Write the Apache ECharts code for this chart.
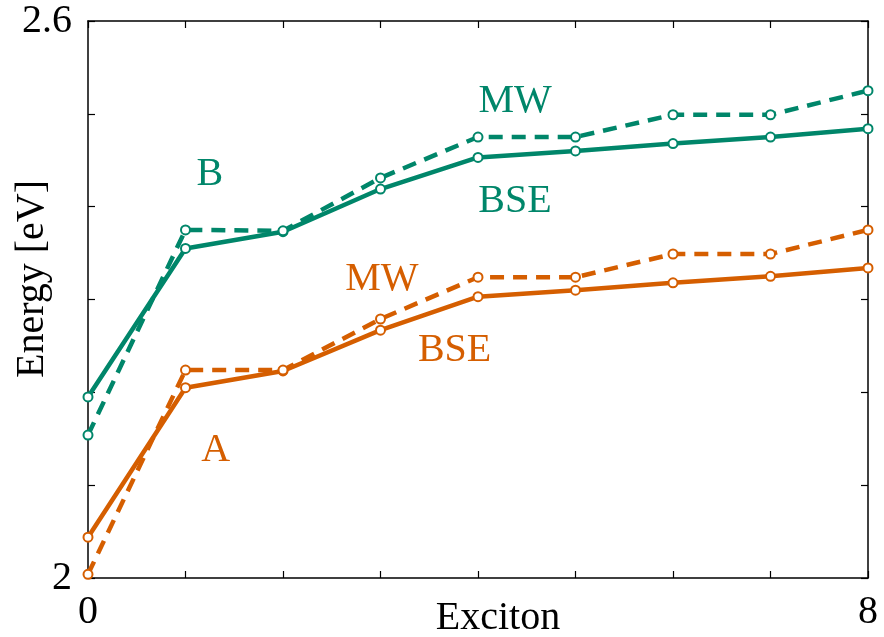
<!DOCTYPE html>
<html>
<head>
<meta charset="utf-8">
<script src="https://cdn.jsdelivr.net/npm/echarts@6/dist/echarts.min.js"></script>
<style>
  html, body { margin: 0; padding: 0; background: #fff; }
  #chart { width: 884px; height: 637px; }
</style>
</head>
<body>
<div id="chart"></div>
<script>
  // exciton index
  let excitons = [0, 1, 2, 3, 4, 5, 6, 7, 8]
  // B exciton (green)
  let bBse = [2.195, 2.355, 2.373, 2.419, 2.453, 2.460, 2.468, 2.475, 2.484]
  let bMw = [2.154, 2.375, 2.374, 2.431, 2.475, 2.475, 2.499, 2.499, 2.525]
  // A exciton (orange)
  let aBse = [2.044, 2.205, 2.223, 2.267, 2.303, 2.310, 2.318, 2.325, 2.334]
  let aMw = [2.004, 2.224, 2.224, 2.279, 2.324, 2.324, 2.349, 2.349, 2.375]
  let yTickLabels = ['2', '2.6']
  let xTickLabels = ['0', '8']

  const green = '#00866A'
  const orange = '#D55E00'
  const font = 'Liberation Serif'

  let pairs = (ys) => excitons.map((x, i) => [x, ys[i]])

  // text labels in data space
  let tag = (text, coord, color) => ({
    coord: coord,
    symbol: 'circle',
    symbolSize: 1,
    itemStyle: { color: 'rgba(0,0,0,0)' },
    label: {
      show: true, position: 'inside', formatter: text,
      color: color, fontFamily: font, fontSize: 40
    }
  })

  let line = (name, ys, color, dashed, tags) => ({
    name: name,
    type: 'line',
    data: pairs(ys),
    symbol: 'circle',
    symbolSize: 9,
    showAllSymbol: true,
    lineStyle: { color: color, width: 4.5, type: dashed ? [14, 9] : 'solid' },
    itemStyle: { color: '#fff', borderColor: color, borderWidth: 2 },
    emphasis: { disabled: true },
    markPoint: tags ? { silent: true, data: tags } : undefined,
    z: dashed ? 3 : 2
  })

  let tickStyle = { show: true, inside: true, length: 7, lineStyle: { color: '#000', width: 1.2 } }
  let axisLine = { show: true, onZero: false, lineStyle: { color: '#000', width: 1.5 } }

  let myChart = echarts.init(document.getElementById('chart'))
  let option = {
    animation: false,
    grid: { left: 88, right: 16, top: 21, bottom: 59 },
    xAxis: [
      {
        type: 'value', min: 0, max: 8, interval: 1,
        axisLine: axisLine, axisTick: tickStyle, splitLine: { show: false },
        axisLabel: {
          fontFamily: font, fontSize: 40, color: '#000', margin: 14,
          formatter: (v) => (xTickLabels.indexOf(String(v)) >= 0 ? String(v) : '')
        }
      },
      {
        type: 'value', position: 'top', min: 0, max: 8, interval: 1,
        axisLine: axisLine, axisTick: tickStyle, splitLine: { show: false },
        axisLabel: { show: false }
      }
    ],
    yAxis: [
      {
        type: 'value', min: 2, max: 2.6, interval: 0.1,
        axisLine: axisLine, axisTick: tickStyle, splitLine: { show: false },
        axisLabel: {
          fontFamily: font, fontSize: 40, color: '#000', margin: 16,
          formatter: (v) => {
            let s = String(Math.round(v * 10) / 10)
            return yTickLabels.indexOf(s) >= 0 ? s : ''
          }
        }
      },
      {
        type: 'value', position: 'right', min: 2, max: 2.6, interval: 0.1,
        axisLine: axisLine, axisTick: tickStyle, splitLine: { show: false },
        axisLabel: { show: false }
      }
    ],
    graphic: [
      {
        type: 'text',
        x: 498, y: 618,
        style: { text: 'Exciton', fontFamily: font, fontSize: 40, fill: '#000', align: 'center', verticalAlign: 'middle' }
      },
      {
        type: 'text',
        x: 32, y: 279, rotation: Math.PI / 2,
        style: { text: 'Energy [eV]', fontFamily: font, fontSize: 40, fill: '#000', align: 'center', verticalAlign: 'middle' }
      }
    ],
    series: [
      line('B BSE', bBse, green, false, [
        tag('BSE', [4.38, 2.406], green),
        tag('B', [1.25, 2.435], green)
      ]),
      line('B MW', bMw, green, true, [
        tag('MW', [4.38, 2.513], green)
      ]),
      line('A BSE', aBse, orange, false, [
        tag('BSE', [3.76, 2.245], orange),
        tag('A', [1.31, 2.137], orange)
      ]),
      line('A MW', aMw, orange, true, [
        tag('MW', [3.015, 2.322], orange)
      ])
    ]
  }
  myChart.setOption(option)
</script>
</body>
</html>
